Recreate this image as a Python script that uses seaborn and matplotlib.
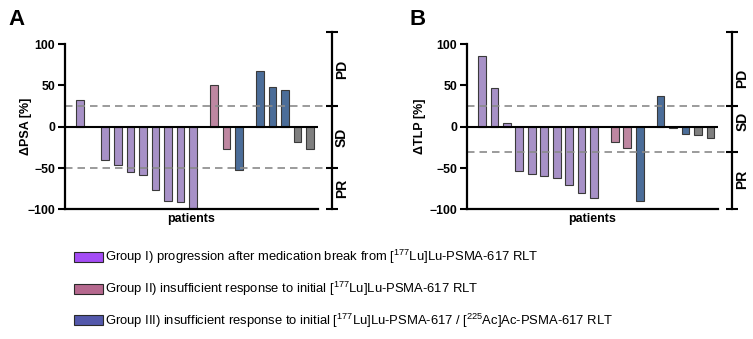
import numpy as np
import pandas as pd
import seaborn as sns
import matplotlib.pyplot as plt
from matplotlib.patches import Patch
from matplotlib.transforms import blended_transform_factory

sns.set_style('ticks')
plt.rcParams['font.family'] = ['Liberation Sans', 'DejaVu Sans']
plt.rcParams['mathtext.default'] = 'regular'
for k in ['text.color', 'axes.labelcolor', 'xtick.color', 'ytick.color', 'axes.edgecolor']:
    plt.rcParams[k] = 'black'

# patient groups (I: 10, II: 3, III: 5) and bar colour class
group = [0] * 10 + [1] * 3 + [2] * 5
bar_kind = ['I'] * 10 + ['II', 'II', 'III'] + ['III'] * 3 + ['other'] * 2

# change in PSA / TLP [%] per patient (nan = not available)
psa = [32, np.nan, -40, -46, -55, -59, -77, -90, -91.5, -100,
       50, -27, -53,
       68, 48, 44.5, -18, -27.5]
tlp = [85.5, 46.5, 4.5, -54, -57.5, -59.5, -61.5, -71, -80, -86,
       -18, -25.5, -90.5,
       37, -1, -8.5, -10.5, -14]

bar_colors = {'I': '#a588d0', 'II': '#c77ea0', 'III': '#3e6ba6', 'other': '#7f7f7f'}
legend_colors = ['#a44cf5', '#b5688e', '#5358ab']
legend_labels = [
    'Group I) progression after medication break from [$^{177}$Lu]Lu-PSMA-617 RLT',
    'Group II) insufficient response to initial [$^{177}$Lu]Lu-PSMA-617 RLT',
    'Group III) insufficient response to initial [$^{177}$Lu]Lu-PSMA-617 / [$^{225}$Ac]Ac-PSMA-617 RLT',
]

gap = 2 / 3
pos = [i + gap * g for i, g in enumerate(group)]

fig = plt.figure(figsize=(7.53, 3.39), dpi=100)
axA = fig.add_axes([0.0863, 0.3826, 0.336, 0.5236])
axB = fig.add_axes([0.6198, 0.3826, 0.3342, 0.5236])

panels = [
    (axA, psa, '\u0394PSA [%]', 'A', -50, [70, -12.5, -75], -0.13, 8 / 753),
    (axB, tlp, '\u0394TLP [%]', 'B', -30, [59, 7, -64], -0.16, 410 / 753),
]

for ax, vals, ylab, letter, low, lab_y, ylab_x, letter_x in panels:
    df = pd.DataFrame({'pos': pos, 'val': vals, 'kind': bar_kind}).dropna()
    sns.barplot(data=df, x='pos', y='val', hue='kind', palette=bar_colors,
                native_scale=True, dodge=False, width=0.62, legend=False,
                edgecolor='#3a3a3a', linewidth=0.8, ax=ax)
    ax.set_xlim(-1.22, 18.97)
    ax.set_ylim(-100, 115)
    ax.axhline(0, color='black', lw=1.5, zorder=3)

    sns.despine(ax=ax)
    ax.spines['left'].set_bounds(-100, 100)
    ax.spines['left'].set_linewidth(1.6)
    ax.spines['bottom'].set_linewidth(1.6)
    ax.set_yticks([-100, -50, 0, 50, 100])
    ax.set_xticks([])
    ax.tick_params(axis='y', length=5, width=1.5, labelsize=8.8, pad=2)
    for t in ax.get_yticklabels():
        t.set_fontweight('bold')
    ax.set_xlabel('patients', fontsize=9, fontweight='bold', labelpad=3)
    ax.set_ylabel(ylab, fontsize=9, fontweight='bold')
    ax.yaxis.set_label_coords(ylab_x, 100 / 215)

    # response bracket on the right
    axr = ax.twinx()
    axr.set_ylim(-100, 115)
    for s in ['left', 'top', 'bottom']:
        axr.spines[s].set_visible(False)
    axr.spines['right'].set_position(('outward', 10))
    axr.spines['right'].set_bounds(-100, 115)
    axr.spines['right'].set_linewidth(1.6)
    axr.set_yticks([115, 25, low, -100])
    axr.tick_params(axis='y', direction='inout', length=9, width=1.5, labelright=False)

    bx = 1 + 10 / (ax.get_position().width * 753)
    tr = blended_transform_factory(ax.transAxes, ax.transData)
    for y in [25, low]:
        ax.plot([0, bx], [y, y], transform=tr, color='#8a8a8a', lw=1.2,
                ls=(0, (4.5, 3)), clip_on=False, zorder=1)
    lx = bx + 14 / (ax.get_position().width * 753)
    for txt, y in zip(['PD', 'SD', 'PR'], lab_y):
        ax.text(lx, y, txt, transform=tr, rotation=90, ha='center', va='center',
                fontsize=10, fontweight='bold')

    fig.text(letter_x, 1 - 25 / 339, letter, fontsize=16, fontweight='bold', va='baseline')

handles = [Patch(facecolor=c, edgecolor='#2a2a2a', linewidth=0.8) for c in legend_colors]
fig.legend(handles, legend_labels, loc='upper left', bbox_to_anchor=(74 / 753, 1 - 248 / 339),
           frameon=False, fontsize=9.4, handlelength=2.2, handleheight=0.8,
           handletextpad=0.15, labelspacing=1.05, borderpad=0, borderaxespad=0)

fig.savefig('out.png', dpi=100)
